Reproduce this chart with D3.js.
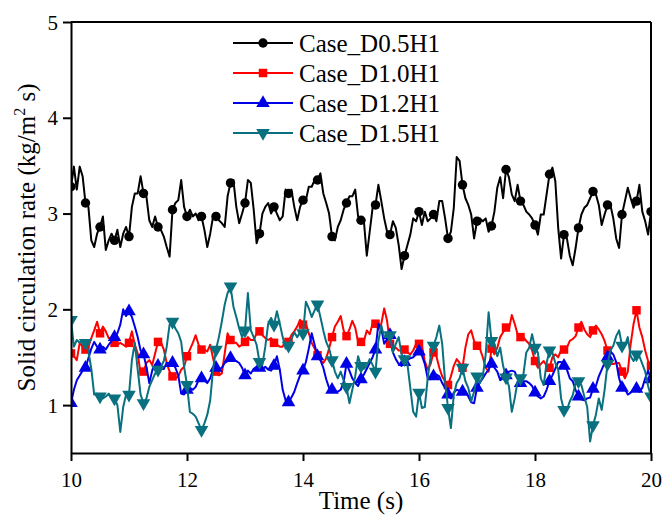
<!DOCTYPE html>
<html>
<head>
<meta charset="utf-8">
<script src="https://cdn.jsdelivr.net/npm/d3@7"></script>
<style>
  html, body { margin: 0; padding: 0; background: #fff; }
  svg { display: block; }
</style>
</head>
<body>
<svg id="chart" width="664" height="515"></svg>
<script>
// ---------- data ----------
const tStart = 10, tStep = 0.05;   // sampling of the time series (s)
const xTicks = [10, 12, 14, 16, 18, 20];
const yTicks = [1, 2, 3, 4, 5];
const seriesNames = ["Case_D0.5H1", "Case_D1.0H1", "Case_D1.2H1", "Case_D1.5H1"];

const caseD05H1 = [
  3.28,3.49,3.25,3.49,3.39,3.11,3.07,2.72,2.65,2.79,
  2.86,2.97,2.62,2.72,2.79,2.72,2.83,2.65,2.79,2.86,
  2.76,3.07,3.21,3.21,3.39,3.21,3.18,2.93,2.86,2.97,
  2.86,2.83,2.76,2.65,2.55,3.04,3.11,3.14,3.35,3.07,
  2.97,3.04,2.97,3.00,2.93,2.97,2.83,2.65,2.79,2.97,
  2.97,2.93,2.90,2.86,3.18,3.32,3.35,3.07,2.90,3.00,
  3.11,3.35,3.32,3.04,2.69,2.79,3.00,3.07,3.11,3.00,
  3.07,3.00,2.93,2.97,3.25,3.21,3.25,3.07,2.93,3.07,
  3.14,3.14,3.28,3.28,3.35,3.35,3.42,3.21,3.11,3.00,
  2.76,2.72,2.86,2.93,3.04,3.11,3.18,3.18,3.25,2.97,
  2.93,2.92,2.56,2.81,3.06,3.09,3.30,3.13,2.95,2.81,
  2.78,2.92,2.85,2.67,2.42,2.56,2.67,2.78,2.95,2.92,
  3.02,2.88,3.02,2.92,2.95,2.99,2.92,3.13,3.13,2.95,
  2.74,2.81,3.06,3.59,3.55,3.30,3.16,3.09,2.99,2.74,
  2.92,2.95,2.92,2.95,2.81,2.87,3.02,3.27,3.38,3.16,
  3.46,3.38,3.20,3.13,3.30,3.13,3.09,3.02,2.99,2.95,
  2.88,2.78,2.99,2.99,3.20,3.41,3.48,3.34,2.85,2.53,
  2.78,2.74,2.56,2.46,2.64,2.85,2.99,3.06,3.09,3.16,
  3.23,3.20,3.09,2.88,2.99,3.09,3.09,2.95,2.74,2.64,
  2.99,3.13,3.27,3.16,3.06,3.13,3.30,3.02,2.92,2.78,
  3.02
];
const caseD10H1 = [
  1.54,1.51,1.47,1.65,1.61,1.58,1.61,1.70,1.78,1.87,
  1.75,1.82,1.77,1.70,1.70,1.65,1.63,1.65,1.63,1.61,
  1.65,1.77,1.63,1.54,1.33,1.35,1.44,1.47,1.42,1.54,
  1.66,1.66,1.58,1.44,1.35,1.30,1.28,1.30,1.37,1.40,
  1.51,1.58,1.65,1.73,1.63,1.58,1.58,1.56,1.63,1.49,
  1.35,1.31,1.33,1.54,1.75,1.68,1.65,1.65,1.61,1.63,
  1.66,1.71,1.68,1.68,1.75,1.77,1.73,1.70,1.68,1.70,
  1.65,1.63,1.61,1.61,1.68,1.66,1.73,1.77,1.82,1.89,
  1.84,1.85,1.75,1.65,1.59,1.52,1.47,1.44,1.49,1.59,
  1.71,1.82,1.87,1.93,1.78,1.72,1.79,1.88,1.81,1.66,
  1.66,1.67,1.78,1.74,1.85,1.85,1.79,1.85,2.01,1.88,
  1.64,1.57,1.60,1.57,1.57,1.58,1.55,1.53,1.57,1.64,
  1.64,1.62,1.46,1.37,1.43,1.55,1.51,1.39,1.30,1.25,
  1.21,1.30,1.41,1.48,1.44,1.39,1.60,1.74,1.78,1.67,
  1.62,1.59,1.50,1.39,1.35,1.59,1.53,1.60,1.71,1.76,
  1.81,1.79,1.94,1.85,1.74,1.71,1.71,1.67,1.64,1.57,
  1.46,1.39,1.43,1.46,1.41,1.39,1.50,1.53,1.50,1.57,
  1.58,1.60,1.67,1.69,1.72,1.81,1.87,1.79,1.74,1.71,
  1.78,1.83,1.79,1.74,1.67,1.57,1.43,1.43,1.44,1.44,
  1.35,1.28,1.35,1.64,1.85,1.99,1.81,1.71,1.57,1.46,
  1.41
];
const caseD12H1 = [
  1.02,1.16,1.26,1.31,1.36,1.39,1.49,1.59,1.66,1.61,
  1.58,1.61,1.58,1.63,1.67,1.71,1.75,1.84,2.00,1.93,
  1.98,1.92,1.82,1.71,1.57,1.53,1.40,1.23,1.36,1.42,
  1.41,1.38,1.38,1.44,1.44,1.44,1.39,1.31,1.12,1.11,
  1.16,1.18,1.16,1.19,1.26,1.28,1.26,1.23,1.28,1.37,
  1.39,1.37,1.39,1.44,1.46,1.49,1.46,1.46,1.44,1.39,
  1.31,1.36,1.33,1.38,1.40,1.39,1.37,1.40,1.37,1.36,
  1.41,1.51,1.37,1.16,1.05,1.03,1.08,1.14,1.23,1.31,
  1.36,1.45,1.59,1.75,1.63,1.51,1.47,1.39,1.27,1.18,
  1.16,1.14,1.14,1.16,1.24,1.43,1.36,1.28,1.23,1.20,
  1.27,1.32,1.38,1.44,1.50,1.58,1.85,1.80,1.64,1.69,
  1.73,1.55,1.48,1.43,1.41,1.45,1.47,1.49,1.50,1.53,
  1.56,1.52,1.43,1.28,1.27,1.30,1.32,1.30,1.23,1.18,
  1.11,1.07,1.13,1.16,1.15,1.14,1.14,1.09,1.03,1.02,
  1.18,1.24,1.28,1.33,1.37,1.43,1.39,1.35,1.26,1.28,
  1.31,1.35,1.36,1.35,1.28,1.23,1.25,1.25,1.23,1.20,
  1.13,1.09,1.07,1.09,1.16,1.25,1.31,1.38,1.45,1.45,
  1.41,1.37,1.28,1.25,1.16,1.09,1.06,1.05,1.07,1.08,
  1.17,1.20,1.30,1.37,1.44,1.50,1.56,1.53,1.45,1.28,
  1.18,1.17,1.11,1.13,1.17,1.17,1.14,1.18,1.28,1.36,
  1.27
];
const caseD15H1 = [
  1.89,1.61,1.68,1.65,1.68,1.65,1.56,1.38,1.11,1.12,
  1.09,1.07,1.09,1.12,1.07,1.07,1.00,0.72,0.98,1.11,
  1.11,1.47,1.65,1.37,1.11,1.02,1.07,1.19,1.26,1.33,
  1.37,1.40,1.46,1.61,1.84,1.87,1.80,1.75,1.66,1.40,
  1.21,0.93,0.91,0.88,0.81,0.74,0.81,0.90,1.05,1.38,
  1.58,1.71,1.87,2.05,2.17,2.24,2.03,1.92,1.80,1.71,
  1.78,2.17,1.78,1.71,1.63,1.45,1.42,1.61,1.85,1.91,
  1.84,1.98,1.85,1.71,1.59,1.62,1.69,1.76,1.71,1.76,
  1.75,2.08,2.01,1.92,1.99,2.05,1.92,1.78,1.66,1.59,
  1.47,1.35,1.28,1.35,1.26,1.19,1.02,1.16,1.30,1.51,
  1.41,1.38,1.41,1.48,1.42,1.35,1.67,1.83,1.71,1.71,
  1.73,1.55,1.64,1.71,1.53,1.48,1.43,1.18,0.93,0.88,
  1.13,0.97,0.98,1.28,1.50,1.62,1.71,1.83,1.64,1.25,
  0.97,0.76,1.11,1.23,1.28,1.39,1.25,1.18,1.04,1.14,
  1.30,1.23,1.30,1.53,1.97,1.67,1.64,1.51,1.60,1.41,
  1.29,1.20,0.93,1.07,1.25,1.28,1.32,1.55,1.60,1.74,
  1.60,1.55,1.28,1.21,1.44,1.57,1.55,1.44,1.37,1.07,
  0.95,0.95,1.04,1.10,1.23,1.25,1.21,1.09,0.98,0.62,
  0.79,0.90,1.07,0.95,1.16,1.43,1.57,1.62,1.72,1.78,
  1.62,1.62,1.71,1.51,1.46,1.53,1.51,1.43,1.35,1.20,
  1.09
];

// ---------- layout ----------
const W = 664, H = 515;
const margin = { left: 71, right: 13, top: 22, bottom: 62 };
const pw = W - margin.left - margin.right;
const ph = H - margin.top - margin.bottom;
const FONT = "'Liberation Serif', 'Times New Roman', Times, serif";

const svg = d3.select("#chart");
const g = svg.append("g").attr("transform", `translate(${margin.left},${margin.top})`);

const x = d3.scaleLinear().domain([10, 20]).range([0, pw]);
const y = d3.scaleLinear().domain([0.5, 5]).range([ph, 0]);

const series = [
  { name: seriesNames[0], values: caseD05H1, color: "#000000", marker: "circle" },
  { name: seriesNames[1], values: caseD10H1, color: "#ff0000", marker: "square" },
  { name: seriesNames[2], values: caseD12H1, color: "#0000e6", marker: "triangle" },
  { name: seriesNames[3], values: caseD15H1, color: "#08707f", marker: "triangleDown" }
];
series.forEach(s => {
  s.points = s.values.map((v, i) => ({ t: tStart + i * tStep, v: v }));
});

const markerPath = {
  circle: d3.symbol().type(d3.symbolCircle).size(70)(),
  square: d3.symbol().type(d3.symbolSquare).size(72)(),
  triangle: d3.symbol().type(d3.symbolTriangle).size(80)(),
  triangleDown: d3.symbol().type(d3.symbolTriangle).size(80)()
};
const markerRot = { circle: 0, square: 0, triangle: 0, triangleDown: 180 };

const clip = svg.append("defs").append("clipPath").attr("id", "plotclip")
  .append("rect").attr("x", 0).attr("y", 0).attr("width", pw).attr("height", ph);

const plot = g.append("g").attr("clip-path", "url(#plotclip)");
const line = d3.line().x(d => x(d.t)).y(d => y(d.v));

series.forEach(s => {
  plot.append("path")
    .datum(s.points)
    .attr("fill", "none")
    .attr("stroke", s.color)
    .attr("stroke-width", 2)
    .attr("stroke-linejoin", "round")
    .attr("d", line);
  plot.selectAll(null)
    .data(s.points.filter((d, i) => i % 5 === 0))
    .enter().append("path")
    .attr("d", markerPath[s.marker])
    .attr("fill", s.color)
    .attr("transform", d => `translate(${x(d.t)},${y(d.v)}) rotate(${markerRot[s.marker]})`);
});

// ---------- axes ----------
const xAxis = g.append("g").attr("transform", `translate(0,${ph})`)
  .call(d3.axisBottom(x).tickValues(xTicks).tickFormat(d3.format("d")).tickSize(8).tickSizeOuter(0));
const yAxis = g.append("g")
  .call(d3.axisLeft(y).tickValues(yTicks).tickFormat(d3.format("d")).tickSize(8).tickSizeOuter(0));
[xAxis, yAxis].forEach(a => {
  a.select(".domain").attr("stroke", "#000").attr("stroke-width", 2);
  a.selectAll(".tick line").attr("stroke", "#000").attr("stroke-width", 2);
  a.selectAll(".tick text").attr("font-family", FONT).attr("font-size", 21).attr("fill", "#000");
});
xAxis.selectAll(".tick text").attr("dy", null).attr("y", 34);
yAxis.selectAll(".tick text").attr("x", -13).attr("dy", "0.34em");

// frame: top and right
g.append("line").attr("x1", 0).attr("x2", pw).attr("y1", 0).attr("y2", 0)
  .attr("stroke", "#000").attr("stroke-width", 2);
g.append("line").attr("x1", pw).attr("x2", pw).attr("y1", 0).attr("y2", ph)
  .attr("stroke", "#000").attr("stroke-width", 2);

// axis titles
svg.append("text")
  .attr("x", margin.left + pw / 2).attr("y", 509)
  .attr("text-anchor", "middle")
  .attr("font-family", FONT).attr("font-size", 25)
  .text("Time (s)");

const yt = svg.append("text")
  .attr("transform", `translate(35,${margin.top + ph / 2}) rotate(-90)`)
  .attr("text-anchor", "middle")
  .attr("font-family", FONT).attr("font-size", 25);
yt.append("tspan").text("Solid circulation rate (kg/m");
yt.append("tspan").attr("font-size", 16).attr("dy", -10).text("2");
yt.append("tspan").attr("dy", 10).text(" s)");

// ---------- legend ----------
const legend = svg.append("g").attr("transform", "translate(233,43)");
series.forEach((s, i) => {
  const row = legend.append("g").attr("transform", `translate(0,${i * 30})`);
  row.append("line").attr("x1", 0).attr("x2", 60).attr("y1", 0).attr("y2", 0)
    .attr("stroke", s.color).attr("stroke-width", 2);
  row.append("path").attr("d", markerPath[s.marker]).attr("fill", s.color)
    .attr("transform", `translate(30,0) rotate(${markerRot[s.marker]})`);
  row.append("text").attr("x", 66).attr("y", 0).attr("dy", "0.35em")
    .attr("font-family", FONT).attr("font-size", 25).attr("fill", "#000")
    .text(s.name);
});
</script>
</body>
</html>
